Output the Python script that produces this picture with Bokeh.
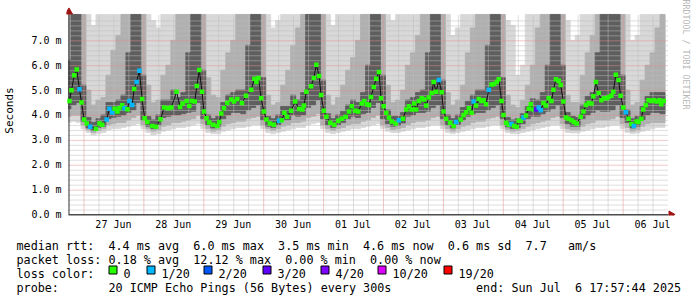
import math
from bokeh.plotting import figure
from bokeh.models import Range1d, FixedTicker, Title
from bokeh.layouts import column
from bokeh.core.properties import value
from bokeh.embed import file_html
from bokeh.resources import INLINE

FONT = "DejaVu Sans Mono"

# ---------------- data (time = hours since 26 Jun 2025 18:00, values in ms) ----------------
day_labels = ["27 Jun", "28 Jun", "29 Jun", "30 Jun", "01 Jul",
              "02 Jul", "03 Jul", "04 Jul", "05 Jul", "06 Jul"]
day_label_hours = [18, 42, 66, 90, 114, 138, 162, 186, 210, 234]
midnight_hours = [6, 30, 54, 78, 102, 126, 150, 174, 198, 222]
y_ticks = [0, 1, 2, 3, 4, 5, 6, 7]
y_tick_labels = ["0.0 m", "1.0 m", "2.0 m", "3.0 m", "4.0 m", "5.0 m", "6.0 m", "7.0 m"]

# median rtt points (hour, ms, lost pings out of 20)
med_hour = [0.4, 1.2, 2.3, 3.3, 4.4, 5.2, 6.3, 7.3, 8.7, 11.0, 12.4, 13.5, 15.3, 16.4, 17.5, 18.5,
            19.6, 20.4, 21.5, 22.5, 23.6, 24.4, 25.5, 26.3, 27.3, 28.4, 29.5, 30.5, 31.6, 33.5, 35.1,
            36.9, 38.3, 39.9, 41.2, 43.3, 44.7, 45.7, 47.3, 48.4, 49.5, 50.6, 51.4, 52.4, 53.5, 54.3,
            55.3, 56.4, 58.0, 59.6,
            60.4, 61.2, 62.3, 63.6, 65.2, 66.3, 67.6, 69.5, 71.1, 73.2, 74.5, 75.3, 76.1, 77.2, 78.3,
            79.3, 80.7, 82.3, 84.4, 85.5, 86.5, 87.6, 89.2, 90.8, 92.4, 93.7, 94.3, 95.3, 97.2, 98.3,
            99.3, 100.4, 101.2, 102.3, 103.3, 104.9, 106.5, 108.1, 109.5, 111.1, 112.4, 113.5, 114.8,
            116.1, 117.5, 118.5, 119.6,
            120.4, 121.2, 122.3, 123.3, 124.4, 125.2, 126.3, 127.3, 128.4, 129.5, 131.1, 132.4, 134.0,
            135.3, 136.4, 137.5, 138.5, 139.3, 140.4, 141.5, 142.5, 143.3, 144.4, 145.5, 146.3, 147.3,
            148.4, 149.5, 150.3, 151.3, 152.9, 154.3, 155.3, 157.2, 158.3, 159.3, 160.4, 161.5, 162.3,
            163.3, 164.4, 165.5, 166.3, 167.3, 168.4, 169.5, 170.5, 171.6, 172.4, 173.5, 174.3, 175.3,
            176.4, 177.5, 178.5, 179.6,
            180.4, 181.2, 182.3, 183.3, 184.4, 185.2, 186.3, 187.3, 188.4, 189.2, 190.3, 191.3, 192.4,
            193.5, 194.3, 195.3, 196.4, 197.2, 198.3, 199.3, 200.4, 201.5, 202.5, 203.6, 205.2, 206.3,
            207.3, 208.4, 209.5, 210.3, 211.3, 212.4, 213.5, 214.5, 215.6, 216.4, 217.5, 218.3, 219.3,
            220.4, 221.2, 222.3, 223.3, 224.4, 225.5, 226.5, 227.6, 228.4, 229.5, 230.3, 231.3, 232.4,
            233.5, 234.5, 235.6, 236.7, 237.5, 238.5]
med_ms = [4.56, 4.99, 5.60, 5.83, 5.03, 4.50, 3.82, 3.66, 3.53, 3.45, 3.66, 3.61, 3.82, 4.25, 4.10, 4.25,
          4.14, 4.27, 4.39, 4.27, 4.23, 4.56, 4.40, 5.04, 5.33, 5.78, 4.64, 3.87, 3.72, 3.56, 3.53,
          3.83, 4.30, 4.27, 4.30, 4.93, 4.32, 4.46, 4.56, 4.36, 4.56, 4.54, 5.16, 5.81, 4.93, 4.14,
          3.87, 3.70, 3.61, 3.56,
          3.72, 4.06, 4.27, 4.48, 4.62, 4.54, 4.64, 4.48, 4.77, 5.01, 5.46, 5.33, 5.49, 4.67, 4.14,
          3.82, 3.66, 3.61, 3.77, 3.79, 4.09, 3.93, 4.17, 4.54, 4.24, 4.22, 4.38, 4.93, 5.15, 5.49,
          6.02, 5.57, 4.80, 4.17, 3.93, 3.69, 3.61, 3.77, 3.85, 3.93, 4.14, 4.35, 4.17,
          4.14, 4.46, 4.56, 4.43,
          4.40, 4.72, 5.12, 5.46, 5.73, 4.67, 4.35, 4.09, 3.90, 3.74, 3.66, 3.79, 3.85,
          4.22, 4.35, 4.22, 4.46, 4.22, 4.56, 4.67, 4.62, 4.38, 4.70, 4.88, 5.33, 4.93,
          5.41, 4.91, 4.14, 3.85, 3.69, 3.56, 3.72, 3.82, 4.00, 4.11, 4.27, 4.09, 4.54,
          4.38, 4.64, 4.56, 4.59, 4.43, 5.01, 5.22, 5.25, 5.33, 5.44, 4.56, 4.00, 3.69,
          3.61, 3.64, 3.56, 3.53,
          3.77, 3.77, 3.90, 3.98, 4.25, 4.43, 4.22, 4.22, 4.30, 4.19, 4.48, 4.38, 4.67,
          4.56, 5.01, 5.44, 5.38, 5.20, 4.54, 3.90, 3.85, 3.79, 3.72, 3.66, 3.93, 4.14,
          4.40, 4.48, 4.46, 4.75, 5.33, 4.88, 4.59, 4.67, 4.67, 4.72, 4.77, 4.93, 5.62,
          5.41, 4.77, 4.30, 4.11, 3.85, 3.64, 3.56, 3.74, 3.72, 3.85, 4.22, 4.40, 4.59,
          4.56, 4.59, 4.54, 4.59, 4.43, 4.56]
med_loss = [0, 0, 0, 0, 1, 0, 0, 0, 1, 0, 0, 0, 1, 1, 1, 0,
            0, 0, 0, 1, 0, 1, 1, 0, 1, 1, 0, 0, 0, 0, 0,
            0, 0, 0, 0, 0, 0, 0, 0, 0, 0, 0, 0, 0, 0, 0,
            0, 0, 0, 0,
            0, 0, 0, 0, 0, 0, 0, 0, 0, 0, 0, 0, 0, 0, 0,
            0, 0, 0, 1, 0, 0, 0, 0, 0, 0, 0, 0, 0, 0, 0,
            0, 0, 0, 0, 0, 0, 0, 0, 0, 0, 0, 0, 0,
            0, 0, 0, 0,
            0, 0, 0, 0, 0, 0, 0, 0, 0, 0, 0, 1, 0,
            0, 0, 0, 0, 0, 0, 0, 0, 0, 0, 0, 0, 0,
            1, 0, 0, 0, 0, 0, 1, 0, 0, 0, 0, 0, 1,
            0, 0, 0, 0, 0, 1, 0, 0, 0, 0, 0, 0, 0,
            0, 1, 0, 0,
            0, 0, 1, 0, 0, 0, 0, 3, 1, 1, 0, 0, 0,
            0, 0, 0, 0, 0, 0, 0, 0, 0, 0, 0, 0, 0,
            0, 0, 0, 0, 0, 0, 0, 0, 0, 0, 0, 0, 0,
            0, 0, 0, 1, 0, 0, 1, 0, 0, 0, 0, 0, 0,
            0, 0, 0, 0, 0, 0]

# smoke (ping spread) on a 2-hour grid: outer envelope, middle band, dark core
smoke_hours = list(range(0, 240, 2))
smoke_min = [3.70, 3.75, 3.70, 3.45, 3.30, 3.20, 3.25, 3.30, 3.40, 3.45, 3.45, 3.50,
             3.55, 3.60, 3.65, 3.45, 3.30, 3.20, 3.25, 3.35, 3.40, 3.45, 3.50, 3.50,
             3.55, 3.60, 3.65, 3.45, 3.30, 3.25, 3.25, 3.35, 3.40, 3.45, 3.50, 3.50,
             3.55, 3.60, 3.60, 3.45, 3.30, 3.25, 3.30, 3.35, 3.40, 3.45, 3.50, 3.50,
             3.60, 3.65, 3.70, 3.45, 3.30, 3.25, 3.30, 3.35, 3.40, 3.45, 3.45, 3.50,
             3.55, 3.60, 3.65, 3.45, 3.35, 3.30, 3.30, 3.35, 3.40, 3.45, 3.50, 3.50,
             3.55, 3.60, 3.60, 3.45, 3.30, 3.25, 3.30, 3.35, 3.40, 3.45, 3.50, 3.50,
             3.55, 3.60, 3.60, 3.45, 3.30, 3.25, 3.25, 3.30, 3.35, 3.40, 3.45, 3.50,
             3.55, 3.60, 3.60, 3.45, 3.30, 3.28, 3.28, 3.35, 3.40, 3.45, 3.50, 3.50,
             3.55, 3.60, 3.60, 3.45, 3.30, 3.25, 3.28, 3.35, 3.40, 3.45, 3.50, 3.50]
smoke_mid_lo = [3.95, 4.00, 4.00, 3.60, 3.40, 3.30, 3.38, 3.45, 3.60, 3.65, 3.70, 3.70,
                3.80, 3.90, 4.00, 3.60, 3.45, 3.35, 3.40, 3.55, 3.60, 3.70, 3.70, 3.75,
                3.80, 3.85, 4.00, 3.65, 3.45, 3.35, 3.40, 3.55, 3.65, 3.70, 3.75, 3.75,
                3.85, 3.90, 3.95, 3.60, 3.45, 3.38, 3.45, 3.55, 3.60, 3.70, 3.70, 3.75,
                3.90, 3.95, 4.05, 3.60, 3.45, 3.38, 3.45, 3.50, 3.60, 3.65, 3.65, 3.75,
                3.80, 3.90, 4.00, 3.60, 3.50, 3.42, 3.45, 3.50, 3.60, 3.70, 3.75, 3.75,
                3.80, 3.90, 3.95, 3.60, 3.45, 3.35, 3.45, 3.55, 3.60, 3.70, 3.75, 3.75,
                3.85, 3.90, 3.95, 3.60, 3.42, 3.35, 3.38, 3.45, 3.55, 3.65, 3.70, 3.75,
                3.80, 3.90, 3.95, 3.65, 3.45, 3.40, 3.40, 3.55, 3.65, 3.70, 3.80, 3.80,
                3.80, 3.85, 3.95, 3.65, 3.50, 3.35, 3.40, 3.55, 3.65, 3.70, 3.70, 3.70]
smoke_core_lo = [4.25, 4.40, 4.50, 3.75, 3.48, 3.38, 3.50, 3.55, 3.85, 3.90, 3.95, 4.00,
                 4.10, 4.20, 4.50, 3.80, 3.55, 3.45, 3.60, 3.90, 3.95, 4.00, 4.00, 4.05,
                 4.10, 4.15, 4.50, 3.85, 3.60, 3.48, 3.55, 3.85, 4.00, 4.10, 4.10, 4.05,
                 4.20, 4.30, 4.40, 3.80, 3.55, 3.50, 3.60, 3.80, 3.80, 4.00, 3.95, 4.00,
                 4.30, 4.40, 4.60, 3.85, 3.60, 3.50, 3.60, 3.70, 3.85, 3.95, 3.90, 4.05,
                 4.10, 4.30, 4.50, 3.85, 3.65, 3.55, 3.58, 3.68, 3.95, 4.00, 4.10, 4.10,
                 4.15, 4.30, 4.40, 3.85, 3.60, 3.48, 3.62, 3.80, 3.95, 4.05, 4.10, 4.10,
                 4.20, 4.30, 4.40, 3.85, 3.52, 3.46, 3.50, 3.65, 3.85, 3.95, 3.95, 4.05,
                 4.15, 4.25, 4.40, 3.90, 3.65, 3.55, 3.55, 3.85, 4.00, 4.10, 4.20, 4.15,
                 4.15, 4.20, 4.40, 3.90, 3.70, 3.48, 3.55, 3.80, 4.00, 4.10, 4.10, 4.05]
smoke_core_hi = [6.20, 8.04, 8.04, 5.20, 3.90, 3.70, 3.85, 4.00, 4.50, 4.50, 4.60, 4.80,
                 6.50, 8.04, 8.04, 5.60, 3.95, 3.80, 4.00, 4.60, 4.60, 5.00, 4.70, 4.90,
                 6.50, 8.04, 8.04, 5.80, 4.00, 3.85, 3.95, 4.50, 4.80, 4.90, 5.00, 5.00,
                 6.80, 8.04, 8.04, 5.50, 3.95, 3.85, 4.00, 4.35, 4.35, 4.80, 4.60, 4.90,
                 8.04, 8.04, 8.04, 5.40, 4.05, 3.85, 4.00, 4.15, 4.40, 4.60, 4.50, 4.90,
                 6.00, 8.04, 8.04, 5.60, 4.20, 3.95, 3.95, 4.10, 4.60, 4.70, 4.90, 5.00,
                 6.50, 8.04, 8.04, 5.40, 4.00, 3.85, 4.00, 4.30, 4.55, 4.80, 5.00, 5.00,
                 6.80, 8.04, 8.04, 5.50, 3.90, 3.80, 3.85, 4.05, 4.35, 4.65, 4.60, 4.90,
                 6.00, 8.04, 8.04, 6.00, 4.10, 3.95, 3.90, 4.40, 4.75, 4.90, 6.50, 8.04,
                 8.04, 8.04, 8.04, 5.60, 4.20, 3.85, 3.95, 4.35, 4.75, 4.90, 4.90, 4.90]
smoke_mid_hi = [8.04, 8.04, 8.04, 8.04, 5.00, 4.40, 4.60, 4.70, 5.60, 6.60, 7.20, 8.04,
                8.04, 8.04, 8.04, 8.04, 5.20, 4.50, 4.60, 5.60, 6.00, 7.00, 8.04, 8.04,
                8.04, 8.04, 8.04, 8.04, 5.50, 4.80, 4.70, 5.80, 6.50, 7.00, 8.04, 8.04,
                8.04, 8.04, 8.04, 8.04, 4.80, 4.40, 4.50, 5.20, 5.80, 6.80, 7.50, 8.04,
                8.04, 8.04, 8.04, 8.04, 4.80, 4.40, 4.70, 5.20, 5.80, 6.30, 7.00, 8.04,
                8.04, 8.04, 8.04, 8.04, 5.20, 4.50, 4.60, 5.00, 6.00, 6.50, 7.20, 8.04,
                8.04, 8.04, 8.04, 8.04, 4.90, 4.40, 4.60, 5.20, 6.50, 7.50, 8.04, 8.04,
                8.04, 8.04, 8.04, 8.04, 4.80, 4.40, 4.30, 4.60, 5.20, 6.00, 7.50, 8.04,
                8.04, 8.04, 8.04, 8.04, 4.80, 4.50, 4.50, 5.60, 6.50, 7.20, 8.04, 8.04,
                8.04, 8.04, 8.04, 8.04, 5.00, 4.40, 4.50, 5.40, 6.00, 6.50, 7.50, 8.04]
smoke_max = [8.04, 8.04, 8.04, 8.04, 8.04, 7.60, 8.04, 8.04, 8.04, 8.04, 8.04, 8.04,
             8.04, 8.04, 8.04, 8.04, 8.04, 7.80, 7.50, 8.04, 8.04, 8.04, 8.04, 8.04,
             8.04, 8.04, 8.04, 8.04, 8.04, 8.04, 8.04, 8.04, 8.04, 8.04, 8.04, 8.04,
             8.04, 8.04, 8.04, 8.04, 8.04, 7.50, 7.80, 8.04, 8.04, 8.04, 8.04, 8.04,
             8.04, 8.04, 8.04, 8.04, 8.04, 7.60, 8.04, 8.04, 8.04, 8.04, 8.04, 8.04,
             8.04, 8.04, 8.04, 8.04, 8.04, 7.80, 8.04, 8.04, 8.04, 8.04, 8.04, 8.04,
             8.04, 8.04, 8.04, 8.04, 8.04, 7.20, 7.50, 8.04, 8.04, 8.04, 8.04, 8.04,
             8.04, 8.04, 8.04, 8.04, 7.80, 7.60, 5.60, 6.00, 8.04, 8.04, 8.04, 8.04,
             8.04, 8.04, 8.04, 8.04, 7.80, 7.00, 7.20, 8.04, 8.04, 8.04, 8.04, 8.04,
             8.04, 8.04, 8.04, 8.04, 8.04, 7.00, 7.20, 8.04, 8.04, 8.04, 8.04, 8.04]

loss_levels = [0, 1, 2, 3, 4, 10, 19]
loss_level_labels = ["0", "1/20", "2/20", "3/20", "4/20", "10/20", "19/20"]
loss_colors = ["#26ff00", "#00b8ff", "#0059ff", "#5e00ff", "#7e00ff", "#dd00ff", "#ff0000"]

stats_rows = [
    [(0, "median rtt:"), (13, "4.4 ms avg"), (25, "6.0 ms max"), (37, "3.5 ms min"),
     (49, "4.6 ms now"), (61, "0.6 ms sd"), (72, "7.7"), (78, "am/s")],
    [(0, "packet loss:"), (13, "0.18 % avg"), (25, "12.12 % max"), (38, "0.00 % min"),
     (50, "0.00 % now")],
    [(0, "loss color:")],
    [(0, "probe:"), (13, "20 ICMP Echo Pings (56 Bytes) every 300s"), (65, "end: Sun Jul"),
     (79, "6 17:57:44 2025")],
]

# ---------------- layout constants ----------------
W = 697
H_TOP, H_BOT = 232, 65
FL, FB = 65, 216          # frame left / bottom in canvas pixels
CH = 7.07                 # monospace character advance (px)
PX_X = 0.2                # half a pixel in hours (crisp 1px lines)
PX_Y = 0.02               # half a pixel in ms


def loss_color(n):
    c = loss_colors[0]
    for lv, col in zip(loss_levels, loss_colors):
        if n >= lv:
            c = col
    return c


p = figure(width=W, height=H_TOP, x_range=Range1d(-0.8, 243.6), y_range=Range1d(-0.04, 8.40),
           output_backend="svg", toolbar_location=None,
           min_border_left=FL, min_border_right=21, min_border_top=5, min_border_bottom=H_TOP - FB,
           background_fill_color="white", border_fill_color="white")
p.outline_line_color = None
p.xgrid.visible = False
p.ygrid.visible = False

# smoke
left = [max(h - 1, 0) for h in smoke_hours]
right = [h + 1 for h in smoke_hours]
for lo, hi, col in [(smoke_min, smoke_max, "#d8d8d8"),
                    (smoke_mid_lo, smoke_mid_hi, "#b0b0b0"),
                    (smoke_core_lo, smoke_core_hi, "#5e5e5e")]:
    p.quad(left=left, right=right, bottom=lo, top=hi, fill_color=col, line_color=col, line_width=0.8)

# grid (dotted, drawn over the smoke like rrdtool)
minor_x = [h + PX_X for h in range(6, 240, 6) if h not in midnight_hours]
minor_y = [i / 5 - PX_Y for i in range(1, 40) if i % 5 != 0]
major_x = [h + PX_X for h in midnight_hours]
major_y = [v - PX_Y for v in y_ticks[1:]]
p.segment(x0=minor_x, y0=[0] * len(minor_x), x1=minor_x, y1=[8.04] * len(minor_x),
          line_color="#bcbcbc", line_width=1, line_dash="1 1")
p.segment(x0=[0] * len(minor_y), y0=minor_y, x1=[240] * len(minor_y), y1=minor_y,
          line_color="#bcbcbc", line_width=1, line_dash="1 1")
p.segment(x0=major_x, y0=[0] * len(major_x), x1=major_x, y1=[8.04] * len(major_x),
          line_color="#e09090", line_width=1, line_dash="1 1")
p.segment(x0=[0] * len(major_y), y0=major_y, x1=[240] * len(major_y), y1=major_y,
          line_color="#e09090", line_width=1, line_dash="1 1")

# axis lines + arrows
p.segment(x0=[0], y0=[-PX_Y], x1=[240.4], y1=[-PX_Y], line_color="#111111", line_width=1.5)
p.segment(x0=[PX_X], y0=[0], x1=[PX_X], y1=[8.1], line_color="#333333", line_width=1)
p.scatter(x=[241.4], y=[0], marker="triangle", size=7, angle=-math.pi / 2,
          fill_color="#a01414", line_color="#a01414")
p.scatter(x=[PX_X], y=[8.14], marker="triangle", size=7, angle=0,
          fill_color="#a01414", line_color="#a01414")

# median line with loss colored points
p.line(med_hour, med_ms, line_color="#111111", line_width=1)
p.scatter(med_hour, med_ms, marker="square", size=4.5,
          fill_color=[loss_color(n) for n in med_loss], line_color=None)

# axes (labels only)
p.xaxis.ticker = FixedTicker(ticks=day_label_hours)
p.xaxis.major_label_overrides = dict(zip(day_label_hours, day_labels))
p.yaxis.ticker = FixedTicker(ticks=y_ticks)
p.yaxis.major_label_overrides = dict(zip(y_ticks, y_tick_labels))
for ax in (p.xaxis, p.yaxis):
    ax.axis_line_color = None
    ax.major_tick_line_color = None
    ax.minor_tick_line_color = None
    ax.major_tick_out = 0
    ax.major_tick_in = 0
    ax.major_label_text_font = FONT
    ax.major_label_text_font_size = "10px"
    ax.major_label_text_color = "#000000"
p.xaxis.major_label_standoff = 3
p.yaxis.major_label_standoff = 5
p.yaxis.axis_label = "Seconds"
p.yaxis.axis_label_text_font = FONT
p.yaxis.axis_label_text_font_size = "11px"
p.yaxis.axis_label_text_font_style = "normal"
p.yaxis.axis_label_text_color = "#000000"
p.yaxis.axis_label_standoff = 12

p.add_layout(Title(text="RRDTOOL / TOBI OETIKER", align="left", text_font=FONT,
                   text_font_size="8.3px", text_font_style="normal", text_color="#b8b8b8",
                   standoff=9, offset=-6), "right")

# ---------------- statistics / legend strip ----------------
q = figure(width=W, height=H_BOT, x_range=Range1d(0, W), y_range=Range1d(H_TOP + H_BOT, H_TOP),
           output_backend="svg", toolbar_location=None, x_axis_type=None, y_axis_type=None,
           min_border=0, background_fill_color="white", border_fill_color="white")
q.outline_line_color = None
q.xgrid.visible = False
q.ygrid.visible = False
for fig in (p, q):
    try:
        fig.frame_align = False
    except Exception:
        pass

row_baselines = [245, 259, 273, 287]
tx, ty, tt = [], [], []
for row, base in zip(stats_rows, row_baselines):
    for col, txt in row:
        tx.append(16 + col * CH)
        ty.append(base)
        tt.append(txt)
box_left = [108, 146, 203, 262, 320, 377, 443]
for bx, lab in zip(box_left, loss_level_labels):
    tx.append(bx + 15)
    ty.append(273)
    tt.append(lab)
q.text(x=tx, y=ty, text=tt, text_font=value(FONT), text_font_size="11.75px",
       text_color="#000000", text_baseline="alphabetic", text_align="left")
q.quad(left=[b + 0.5 for b in box_left], right=[b + 8.5 for b in box_left],
       top=[265.5] * len(box_left), bottom=[273.5] * len(box_left),
       fill_color=loss_colors, line_color="#000000", line_width=1)

layout = column(p, q, spacing=0)
open("out.html", "w").write(file_html(layout, INLINE))
